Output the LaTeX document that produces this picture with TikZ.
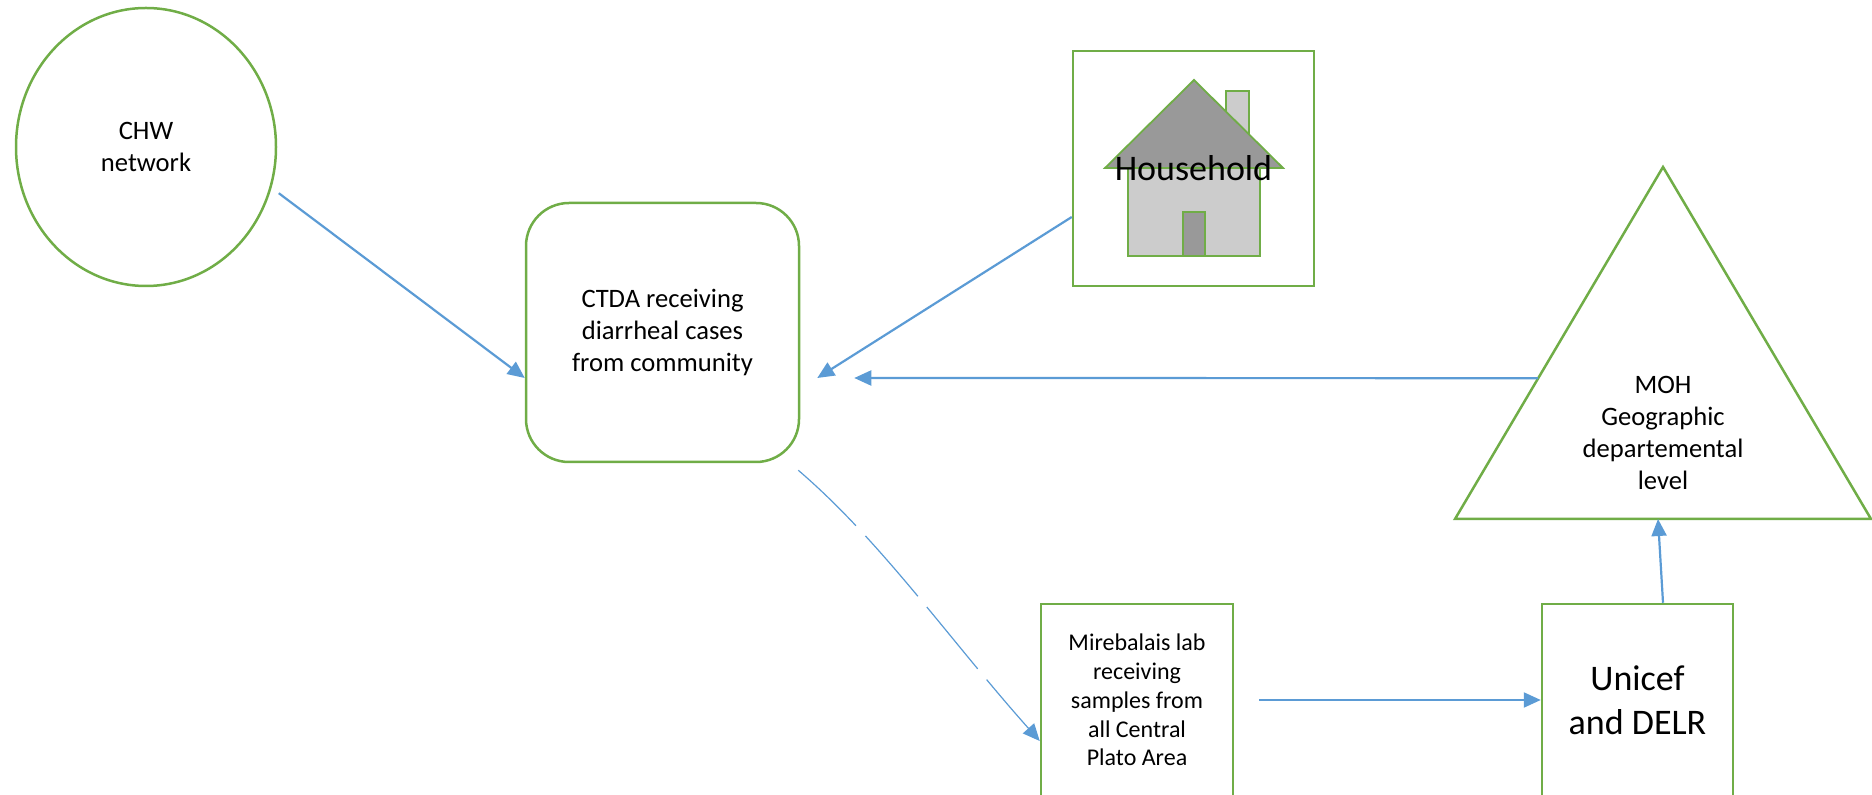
\documentclass[tikz,border=0pt]{standalone}
\usepackage{fontspec}
\setmainfont{Carlito}
\usetikzlibrary{
  positioning,
  shapes.geometric,
  calc,
  arrows.meta,
}
\definecolor{shapegreen}{HTML}{70AD47}
\definecolor{flowblue}{HTML}{5B9BD5}
\definecolor{roofgray}{HTML}{999999}
\definecolor{wallgray}{HTML}{CCCCCC}
\tikzset{
  >={Triangle[length=8.5pt,width=7.5pt]},
  outline/.style={
    draw=shapegreen,
    line width=1.25pt,
  },
  midtext/.style={
    font=\fontsize{13.3}{16}\selectfont,
  },
  smalltext/.style={
    font=\fontsize{12}{14.4}\selectfont,
  },
  bigtext/.style={
    font=\fontsize{18}{22}\selectfont,
  },
  box/.style={
    outline,
    rectangle,
    inner sep=0pt,
    align=center,
    midtext,
  },
  bubble/.style={
    box,
    ellipse,
  },
  roundbox/.style={
    box,
    rounded corners=21.5pt,
  },
  housepart/.style={
    draw=shapegreen,
    line width=0.9pt,
  },
  flow/.style={
    ->,
    draw=flowblue,
    line width=1.1pt,
  },
  sample flow/.style={
    flow,
    line width=0.6pt,
    dash pattern=on 40pt off 7pt,
  },
}

\begin{document}
\begin{tikzpicture}[x=0.5pt,y=-0.5pt]
  \useasboundingbox (0,0) rectangle (1872,795);

  \node [bubble, minimum width=130pt, minimum height=139pt] (chw) at (146,147) {CHW\\network};
  \node [roundbox, minimum width=136.5pt, minimum height=129.5pt] (ctda) at (662.5,332.5)
    {CTDA receiving\\diarrheal cases\\from community};
  \node [box, minimum width=120.5pt, minimum height=117.5pt] (hh) at (1193.5,168.5) {};
  \node [box, smalltext, minimum width=96pt, minimum height=96pt] (lab) at (1137,700)
    {Mirebalais lab\\receiving\\samples from\\all Central\\Plato Area};
  \node [box, bigtext, minimum width=95.5pt, minimum height=96pt, right=153.25pt of lab] (unicef)
    {Unicef\\and DELR};

  % house picture
  \begin{scope}[shift={(hh.center)}]
    \draw [housepart, fill=wallgray] (32.5,-18.5) rectangle (55.5,-77.5);
    \draw [housepart, fill=wallgray] (-65.5,-0.5) rectangle (66.5,87.5);
    \draw [housepart, fill=roofgray] (-10.5,43.5) rectangle (11.5,87.5);
    \draw [housepart, fill=roofgray] (-88.5,-0.5) -- (0.5,-88.5) -- (89.5,-0.5) -- cycle;
  \end{scope}
  \node [bigtext] (hhlabel) at (hh.center) {Household};

  % triangle
  \coordinate (mohL) at (1455,519);
  \coordinate (mohT) at (1663,167);
  \coordinate (mohR) at (1871,519);
  \draw [outline] (mohL) -- (mohT) -- (mohR) -- cycle;
  \node [midtext, align=center] (moh) at (1663,433) {MOH\\Geographic\\departemental\\level};

  % connectors
  \draw [flow, shorten <=4.5pt] (chw.-18) -- ($(ctda.west)+(0,45.5)$);
  \draw [flow] ($(hh.west)+(0,48.5)$) -- ($(ctda.east)+(17,45.5)$);
  \draw [flow] ($(mohL)!0.4!(mohT)$) -- ($(ctda.east)+(54,45.5)$);
  \draw [sample flow] ($(ctda.south east)+(-2,7)$)
    .. controls +(83,71) and +(-90,-101) .. ($(lab.west)+(0,41)$);
  \draw [flow] ($(lab.east)+(25,0)$) -- (unicef.west);
  \draw [flow] ($(unicef.north)+(25.5,0)$) -- ($(mohL)!0.488!(mohR)$);
\end{tikzpicture}
\end{document}
